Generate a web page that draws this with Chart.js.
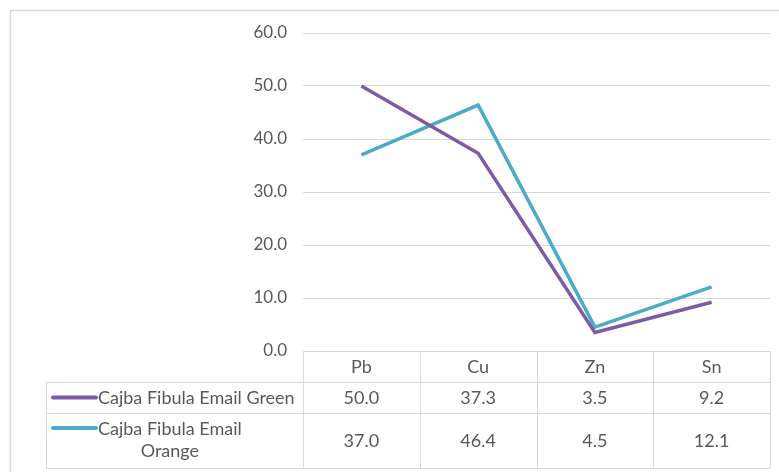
<!DOCTYPE html>
<html>
<head>
<meta charset="utf-8">
<script src="https://cdn.jsdelivr.net/npm/chart.js@4.4.1/dist/chart.umd.min.js"></script>
<style>
  html, body { margin: 0; padding: 0; background: #fff; }
  #wrap { width: 779px; height: 472px; position: relative; }
</style>
</head>
<body>
<div id="wrap"><canvas id="chart"></canvas></div>
<script>
const categories = ['Pb', 'Cu', 'Zn', 'Sn']
const greenValues = [50.0, 37.3, 3.5, 9.2]
const orangeValues = [37.0, 46.4, 4.5, 12.1]
const seriesNames = [['Cajba Fibula Email Green'], ['Cajba Fibula Email', 'Orange']]

const FONT = 'Lato, "Noto Sans", sans-serif'
const TEXT = '#595959'
const GRID = '#D9D9D9'
const PURPLE = '#7D5CA6'
const TEAL = '#4BACC6'

// Excel-style data table drawn under the plot area
const dataTablePlugin = {
  id: 'dataTable',
  afterDraw(chart) {
    const ctx = chart.ctx
    const x = chart.scales.x
    const area = chart.chartArea
    const colW = (area.right - area.left) / categories.length
    const tableLeft = 46
    const headerBottom = area.bottom + 31
    const row1Bottom = headerBottom + 31
    const tableBottom = row1Bottom + 55

    ctx.save()
    ctx.strokeStyle = GRID
    ctx.lineWidth = 1

    // horizontal lines
    ctx.beginPath()
    ctx.moveTo(area.left, area.bottom + 0.5); ctx.lineTo(area.right, area.bottom + 0.5)
    ;[headerBottom, row1Bottom, tableBottom].forEach(y => {
      ctx.moveTo(tableLeft, y + 0.5); ctx.lineTo(area.right, y + 0.5)
    })
    // vertical lines
    ctx.moveTo(tableLeft + 0.5, headerBottom); ctx.lineTo(tableLeft + 0.5, tableBottom)
    for (let i = 0; i <= categories.length; i++) {
      const lx = Math.round(area.left + i * colW) + 0.5
      ctx.moveTo(lx, area.bottom); ctx.lineTo(lx, tableBottom)
    }
    ctx.stroke()

    ctx.fillStyle = TEXT
    ctx.font = '18px ' + FONT
    ctx.textAlign = 'center'
    ctx.textBaseline = 'middle'

    const rows = [greenValues, orangeValues]
    const rowMid = [(headerBottom + row1Bottom) / 2, (row1Bottom + tableBottom) / 2]
    categories.forEach((c, i) => {
      const cx = x.getPixelForValue(i)
      ctx.fillText(c, cx, (area.bottom + headerBottom) / 2 + 1)
      rows.forEach((vals, r) => ctx.fillText(vals[i].toFixed(1), cx, rowMid[r] + 1))
    })

    // series labels with line keys
    const keyColors = [PURPLE, TEAL]
    seriesNames.forEach((lines, r) => {
      const firstY = lines.length > 1 ? row1Bottom + 15 : rowMid[r]
      ctx.strokeStyle = keyColors[r]
      ctx.lineWidth = 4
      ctx.lineCap = 'round'
      ctx.beginPath()
      ctx.moveTo(53, firstY); ctx.lineTo(96, firstY)
      ctx.stroke()
      ctx.textAlign = 'left'
      ctx.fillText(lines[0], 98, firstY + 1)
      if (lines.length > 1) {
        const w = ctx.measureText(lines[0]).width
        ctx.textAlign = 'center'
        ctx.fillText(lines[1], 98 + w / 2, firstY + 23)
      }
    })

    // outer chart border
    ctx.strokeStyle = GRID
    ctx.lineWidth = 1.5
    ctx.strokeRect(10.5, 10.5, 800, 500)
    ctx.restore()
  }
}

new Chart(document.getElementById('chart'), {
  type: 'line',
  data: {
    labels: categories,
    datasets: [{
      label: seriesNames[0].join(' '),
      data: greenValues,
      borderColor: PURPLE,
      borderWidth: 3.5,
      pointRadius: 0,
      tension: 0
    }, {
      label: seriesNames[1].join(' '),
      data: orangeValues,
      borderColor: TEAL,
      borderWidth: 3.5,
      pointRadius: 0,
      tension: 0
    }]
  },
  options: {
    responsive: true,
    maintainAspectRatio: false,
    animation: false,
    layout: { padding: { top: 33, right: 9, bottom: 121, left: 0 } },
    plugins: {
      legend: { display: false },
      tooltip: { enabled: false }
    },
    scales: {
      x: {
        offset: true,
        afterFit: (scale) => { scale.height = 0 },
        grid: { display: false },
        border: { display: false },
        ticks: { display: false }
      },
      y: {
        min: 0,
        max: 60,
        afterFit: (scale) => { scale.width = 303 },
        border: { display: false },
        grid: { color: (c) => c.tick.value === 0 ? 'rgba(0,0,0,0)' : GRID, drawTicks: false, lineWidth: 1 },
        ticks: {
          stepSize: 10,
          padding: 16,
          color: TEXT,
          font: { family: FONT, size: 17 },
          callback: (v) => v.toFixed(1)
        }
      }
    }
  },
  plugins: [dataTablePlugin]
})
</script>
</body>
</html>
